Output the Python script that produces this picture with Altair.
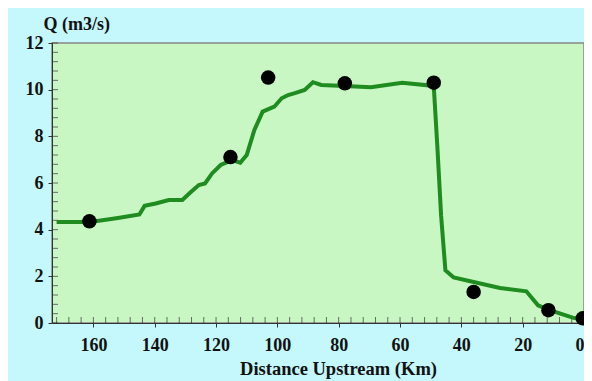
import altair as alt
import pandas as pd

# Model curve (distance upstream km, discharge m3/s)
line_km = [172, 161, 152, 145, 143.3, 139.7, 135.4, 131, 128.3, 125.6, 123.6, 121.3, 118.5,
           114.8, 112.1, 110, 107.5, 104.8, 101, 98.6, 96.5, 94.3, 91.1, 88.4, 85.7, 78,
           69.5, 59.3, 49, 47.8, 46.6, 45.2, 42.5, 36, 27.4, 18.8, 15, 11.2, 3.7, 1]
line_q = [4.33, 4.33, 4.5, 4.65, 5.02, 5.12, 5.27, 5.27, 5.6, 5.91, 5.98, 6.41, 6.77,
          6.98, 6.87, 7.2, 8.27, 9.06, 9.27, 9.63, 9.77, 9.85, 9.99, 10.32, 10.2, 10.16,
          10.1, 10.3, 10.16, 7.5, 4.6, 2.26, 1.95, 1.76, 1.5, 1.36, 0.76, 0.55, 0.23, 0.15]

# Observed points
obs_km = [161.3, 115.3, 103, 78, 49, 36, 11.6, 0.4]
obs_q = [4.36, 7.11, 10.52, 10.27, 10.3, 1.33, 0.55, 0.2]

x_ticks = [160, 140, 120, 100, 80, 60, 40, 20, 0]
y_ticks = [0, 2, 4, 6, 8, 10, 12]
x_minor = list(range(0, 173, 4))
y_minor = [round(i * 0.4, 1) for i in range(0, 31)]

FONT = "Liberation Serif"
X_DOMAIN = [173.5, 0]
Y_DOMAIN = [0, 12]

line_df = pd.DataFrame({"km": line_km, "q": line_q})
obs_df = pd.DataFrame({"km": obs_km, "q": obs_q})
xm_df = pd.DataFrame({"km": x_minor})
ym_df = pd.DataFrame({"q": y_minor})

xscale = alt.Scale(domain=X_DOMAIN, nice=False, zero=False)
yscale = alt.Scale(domain=Y_DOMAIN, nice=False)

xaxis = alt.Axis(values=x_ticks, title="Distance Upstream (Km)", grid=False,
                 domainColor="#333", tickColor="#333", tickSize=4,
                 labelFont=FONT, labelFontSize=18, labelFontWeight="bold", labelColor="#111",
                 labelPadding=9, labelFlush=True,
                 titleFont=FONT, titleFontSize=18.5, titleFontWeight="bold",
                 titleColor="#111", titleX=286, titleY=51, titleBaseline="alphabetic")
yaxis = alt.Axis(values=y_ticks, title="Q (m3/s)", grid=False,
                 domainColor="#333", tickColor="#333", tickSize=4,
                 labelFont=FONT, labelFontSize=18, labelFontWeight="bold", labelColor="#111",
                 labelPadding=5, titleFont=FONT, titleFontSize=18, titleFontWeight="bold",
                 titleColor="#111", titleAngle=0, titleAlign="left", titleBaseline="alphabetic",
                 titleX=-9, titleY=-14)

curve = alt.Chart(line_df).mark_line(color="#1e8c1e", strokeWidth=4, clip=True).encode(
    x=alt.X("km:Q", scale=xscale, axis=xaxis),
    y=alt.Y("q:Q", scale=yscale, axis=yaxis),
)

points = alt.Chart(obs_df).mark_circle(color="#000000", opacity=1, size=210, clip=False).encode(
    x=alt.X("km:Q", scale=xscale),
    y=alt.Y("q:Q", scale=yscale),
)

xminor = alt.Chart(xm_df).mark_tick(orient="vertical", color="#333", size=6, thickness=1).encode(
    x=alt.X("km:Q", scale=xscale),
    y=alt.value(277),
)
yminor = alt.Chart(ym_df).mark_tick(orient="horizontal", color="#333", size=6, thickness=1).encode(
    y=alt.Y("q:Q", scale=yscale),
    x=alt.value(3),
)

chart = alt.layer(xminor, yminor, curve, points).properties(
    width=532, height=280,
    autosize=alt.AutoSizeParams(type="none"),
    padding={"left": 44, "top": 35, "right": 0, "bottom": 58},
    background="#c4f8fc",
).configure_view(fill="#c9f7c3", stroke="#888888", strokeWidth=1.5)

chart.save("out.html", embed_options={"renderer": "svg", "actions": False})
